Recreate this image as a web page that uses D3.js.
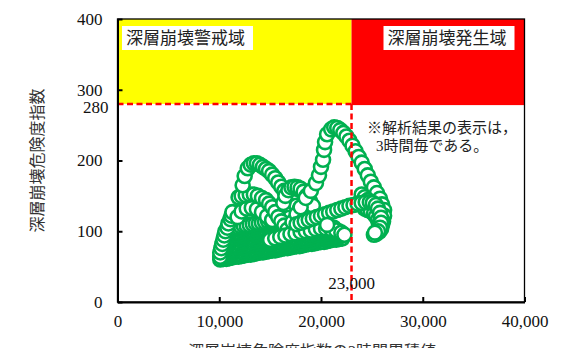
<!DOCTYPE html>
<html>
<head>
<meta charset="utf-8">
<script src="https://cdn.jsdelivr.net/npm/d3@7"></script>
<style>
  body { margin: 0; background: #fff; }
  svg { display: block; }
</style>
</head>
<body>
<svg id="chart" width="573" height="348"></svg>
<script>
// axis ticks
const xTicks = [0, 10000, 20000, 30000, 40000];
const yTicks = [0, 100, 200, 300, 400];
const yThreshold = 280;
const xThreshold = 23000;

// [3h cumulative index, danger index]
// dense low-level band (many 3h steps piled up)
const baseRun = [[10100,60],[10400,61],[10700,61],[11000,62],[11300,63],[11600,64],[11900,64],[12200,65],[12500,66],[12800,67],[13100,67],[13400,68],[13700,69],[14000,70],[14300,70],[14600,71],[14900,72],[15200,73],[15500,73],[15800,74],[16100,75],[16400,76],[16700,76],[17000,77],[17300,78],[17600,79],[17900,79],[18200,80],[18500,81],[18800,82],[19100,82],[19400,83],[19700,84],[20000,85],[20300,85],[20600,86],[20900,87],[21200,88],[21500,88],[21800,89],[22100,90]];
const massRow1 = [[10250,64],[10550,65],[10850,65],[11150,66],[11450,67],[11750,68],[12050,68],[12350,69],[12650,70],[12950,71],[13250,71],[13550,72],[13850,73],[14150,74],[14450,74],[14750,75],[15050,76],[15350,77],[15650,77],[15950,78],[16250,79],[16550,80],[16850,80],[17150,81],[17450,82],[17750,83],[18050,83],[18350,84],[18650,85],[18950,86],[19250,86],[19550,87],[19850,88],[20150,89],[20450,89],[20750,90],[21050,91],[21350,92],[21650,92],[21950,93]];
const massRow2 = [[10200,67],[10500,68],[10800,69],[11100,69],[11400,70],[11700,71],[12000,72],[12300,72],[12600,73],[12900,74],[13200,75],[13500,75],[13800,76],[14100,77],[14400,78],[14700,78],[15000,79],[15300,80],[15600,81],[15900,81],[16200,82],[16500,83],[16800,84],[17100,84],[17400,85],[17700,86],[18000,87],[18300,87],[18600,88],[18900,89],[19200,90],[19500,90],[19800,91],[20100,92],[20400,93],[20700,93],[21000,94],[21300,95],[21600,96],[21900,96]];
const massRow3 = [[10350,71],[10650,72],[10950,73],[11250,73],[11550,74],[11850,75],[12150,76],[12450,76],[12750,77],[13050,78],[13350,79],[13650,79],[13950,80],[14250,81],[14550,82],[14850,82],[15150,83],[15450,84],[15750,85],[16050,85],[16350,86],[16650,87],[16950,88],[17250,88],[17550,89],[17850,90],[18150,91],[18450,91],[18750,92],[19050,93],[19350,94],[19650,94],[19950,95],[20250,96],[20550,97],[20850,97],[21150,98],[21450,99],[21750,100]];
const massRow4 = [[10300,74],[10600,75],[10900,76],[11200,77],[11500,77],[11800,78],[12100,79],[12400,80],[12700,80],[13000,81],[13300,82],[13600,83],[13900,83],[14200,84],[14500,85],[14800,86],[15100,86],[15400,87],[15700,88],[16000,89],[16300,89],[16600,90],[16900,91],[17200,92],[17500,92],[17800,93],[18100,94],[18400,95],[18700,95],[19000,96],[19300,97],[19600,98],[19900,98],[20200,99],[20500,100],[20800,101],[21100,101],[21400,102]];
const massRow5 = [[10450,78],[10750,79],[11050,80],[11350,81],[11650,81],[11950,82],[12250,83],[12550,84],[12850,84],[13150,85],[13450,86],[13750,87],[14050,87],[14350,88],[14650,89],[14950,90],[15250,90],[15550,91],[15850,92],[16150,93],[16450,93],[16750,94],[17050,95],[17350,96],[17650,96],[17950,97],[18250,98],[18550,99],[18850,99],[19150,100],[19450,101],[19750,102],[20050,102],[20350,103],[20650,104],[20950,105],[21250,105]];
const massRow6 = [[10400,82],[10700,82],[11000,83],[11300,84],[11600,85],[11900,85],[12200,86],[12500,87],[12800,88],[13100,88],[13400,89],[13700,90],[14000,91],[14300,91],[14600,92],[14900,93],[15200,94],[15500,94],[15800,95],[16100,96],[16400,97],[16700,97],[17000,98],[17300,99],[17600,100],[17900,100],[18200,101],[18500,102],[18800,103],[19100,103],[19400,104],[19700,105],[20000,106],[20300,106],[20600,107]];
const massRow7 = [[10550,86],[10850,86],[11150,87],[11450,88],[11750,89],[12050,89],[12350,90],[12650,91],[12950,92],[13250,92],[13550,93],[13850,94],[14150,95],[14450,95],[14750,96],[15050,97],[15350,98],[15650,98],[15950,99],[16250,100],[16550,101],[16850,101],[17150,102],[17450,103],[17750,104],[18050,104],[18350,105],[18650,106],[18950,107],[19250,107],[19550,108],[19850,109],[20150,110]];
const massRow8 = [[10500,89],[10800,90],[11100,90],[11400,91],[11700,92],[12000,93],[12300,93],[12600,94],[12900,95],[13200,96],[13500,96],[13800,97],[14100,98],[14400,99],[14700,99],[15000,100],[15300,101],[15600,102],[15900,102],[16200,103],[16500,104],[16800,105],[17100,105],[17400,106],[17700,107],[18000,108],[18300,108],[18600,109],[18900,110],[19200,111]];
const massRow9 = [[10650,93],[10950,94],[11250,94],[11550,95],[11850,96],[12150,97],[12450,97],[12750,98],[13050,99],[13350,100],[13650,100],[13950,101],[14250,102],[14550,103],[14850,103],[15150,104],[15450,105],[15750,106],[16050,106],[16350,107],[16650,108],[16950,109],[17250,109],[17550,110],[17850,111],[18150,112],[18450,112],[18750,113]];
const massRow10 = [[10700,96],[11000,97],[11300,98],[11600,99],[11900,99],[12200,100],[12500,101],[12800,102],[13100,102],[13400,103],[13700,104],[14000,105],[14300,105],[14600,106],[14900,107],[15200,108],[15500,108],[15800,109],[16100,110],[16400,111],[16700,111],[17000,112],[17300,113],[17600,114],[17900,114]];
const massRow11 = [[10850,100],[11150,101],[11450,102],[11750,103],[12050,103],[12350,104],[12650,105],[12950,106],[13250,106],[13550,107],[13850,108],[14150,109],[14450,109],[14750,110],[15050,111],[15350,112],[15650,112],[15950,113],[16250,114],[16550,115],[16850,115],[17150,116],[17450,117]];
const massRow12 = [[10900,104],[11200,105],[11500,105],[11800,106],[12100,107],[12400,108],[12700,108],[13000,109],[13300,110],[13600,111],[13900,111],[14200,112],[14500,113],[14800,114],[15100,114],[15400,115],[15700,116],[16000,117],[16300,117],[16600,118],[16900,119]];
const leftClimb = [[10100,64],[10100,70],[10200,76],[10300,82],[10400,88],[10500,94],[10600,100],[10800,105],[10900,111],[11100,117],[11200,122],[11300,127]];
const midLoop = [[11800,120],[12200,128],[12700,132],[13200,133],[13700,131],[14200,127],[14700,121],[15200,116]];
const secondHump = [[11900,148],[12200,150],[12600,151],[13000,152],[13400,152],[13800,150],[14200,147],[14600,144],[14900,139],[15200,134],[15500,127],[15800,120],[16100,114],[16400,108],[16700,102]];
const firstHump = [[12300,165],[12500,178],[12800,189],[13100,194],[13400,196],[13700,196],[14000,194],[14300,191],[14600,188],[14900,185],[15200,180],[15500,175],[15800,169],[16100,163],[16400,157],[16700,151],[17000,146],[17300,141],[17600,136],[17900,131],[18200,125],[18500,120]];
const ridge = [[16300,140],[16500,150],[16800,158],[17100,162],[17400,163],[17700,162],[18000,160],[18300,156],[18600,150],[18900,143],[19200,136]];
const lowerRun = [[15000,88],[15500,90],[16000,92],[16500,94],[17000,96],[17500,97],[18000,99],[18500,100],[19000,101],[19500,103],[20000,104],[20500,104],[21000,103],[21500,101],[22000,98],[22300,95]];
const peakArc = [[17200,113],[17600,124],[18000,134],[18500,147],[19000,157],[19500,168],[19800,179],[20000,191],[20200,201],[20300,215],[20400,226],[20600,237],[21000,244],[21300,247],[21600,246],[21900,243],[22200,239],[22500,234],[22800,228],[23100,221],[23400,213],[23700,205],[24000,197],[24300,188],[24600,179],[24900,170],[25200,162],[25500,154],[25800,146],[26000,138],[26200,130],[26200,122],[26100,114],[25900,107],[25700,100]];
const blobRun = [[24000,152],[24300,148],[24600,144],[24900,139],[25200,134],[25500,128],[25700,122],[25900,115],[26000,109],[25900,103],[25700,99]];
const rightLoop = [[24300,132],[24600,130],[24900,128],[25200,125],[25400,121],[25600,116],[25700,110],[25700,104],[25600,99],[25400,96],[25200,95]];
const returnRun = [[17600,110],[18000,112],[18400,114],[18800,116],[19200,118],[19600,120],[20000,122],[20400,124],[20800,126],[21200,128],[21600,130],[22000,132],[22400,134],[22800,136],[23200,137],[23600,139],[24000,140],[24400,141],[24800,141],[25100,140],[25400,137],[25600,132],[25800,126],[25900,119],[25900,112],[25800,105],[25600,100],[25300,98]];
const lastPoint = [[20600,109]];

const points = [].concat(baseRun, massRow1, massRow2, massRow3, massRow4, massRow5,
  massRow6, massRow7, massRow8, massRow9, massRow10, massRow11, massRow12,
  leftClimb, midLoop, secondHump, firstHump, ridge, lowerRun, peakArc,
  blobRun, rightLoop, returnRun, lastPoint);

const svg = d3.select("#chart");
const margin = { left: 117.5, right: 48.5, top: 19, bottom: 46 };
const width = 573, height = 348;

const x = d3.scaleLinear().domain([0, 40000]).range([margin.left, width - margin.right]);
const y = d3.scaleLinear().domain([0, 400]).range([height - margin.bottom, margin.top]);

const serif = "'Liberation Serif', 'Times New Roman', serif";
const jp = "'Noto Sans CJK JP', sans-serif";

// warning / occurrence zones
svg.append("rect")
  .attr("x", x(0)).attr("y", y(400))
  .attr("width", x(xThreshold) - x(0)).attr("height", y(yThreshold) - y(400))
  .attr("fill", "#ffff00");
svg.append("rect")
  .attr("x", x(xThreshold)).attr("y", y(400))
  .attr("width", x(40000) - x(xThreshold)).attr("height", y(yThreshold) - y(400) + 1.2)
  .attr("fill", "#ff0000");

// markers
svg.append("g")
  .selectAll("circle")
  .data(points)
  .enter()
  .append("circle")
  .attr("cx", (d) => x(d[0]))
  .attr("cy", (d) => y(d[1]))
  .attr("r", 7)
  .attr("fill", "#fff")
  .attr("stroke", "#00b050")
  .attr("stroke-width", 2.6);

// threshold lines
svg.append("line")
  .attr("x1", x(0)).attr("x2", x(xThreshold))
  .attr("y1", y(yThreshold)).attr("y2", y(yThreshold))
  .attr("stroke", "#ff0000").attr("stroke-width", 2.5)
  .attr("stroke-dasharray", "6,3.5");
svg.append("line")
  .attr("x1", x(xThreshold)).attr("x2", x(xThreshold))
  .attr("y1", y(yThreshold)).attr("y2", y(0))
  .attr("stroke", "#ff0000").attr("stroke-width", 2.5)
  .attr("stroke-dasharray", "6,3.5");

// frame
svg.append("rect")
  .attr("x", x(0)).attr("y", y(400))
  .attr("width", x(40000) - x(0)).attr("height", y(0) - y(400))
  .attr("fill", "none").attr("stroke", "#000").attr("stroke-width", 1.3);

// axes
const xAxis = svg.append("g")
  .attr("transform", "translate(0," + y(0) + ")")
  .call(d3.axisBottom(x).tickValues(xTicks).tickFormat(d3.format(","))
    .tickSizeInner(-5).tickSizeOuter(0).tickPadding(13));
const yAxis = svg.append("g")
  .attr("transform", "translate(" + x(0) + ",0)")
  .call(d3.axisLeft(y).tickValues(yTicks)
    .tickSizeInner(-5).tickSizeOuter(0).tickPadding(15));

[xAxis, yAxis].forEach((g) => {
  g.select(".domain").attr("stroke", "#000").attr("stroke-width", 2);
  g.selectAll(".tick line").attr("stroke", "#000").attr("stroke-width", 2);
  g.selectAll(".tick text")
    .attr("fill", "#111")
    .style("font-family", serif)
    .style("font-size", "17px");
});

// extra 280 label
svg.append("text")
  .attr("x", x(0) - 9).attr("y", y(yThreshold) + 9)
  .attr("text-anchor", "end")
  .attr("fill", "#111")
  .style("font-family", serif).style("font-size", "17px")
  .text("280");

svg.append("text")
  .attr("x", x(xThreshold)).attr("y", 289)
  .attr("text-anchor", "middle")
  .attr("fill", "#111")
  .style("font-family", serif).style("font-size", "17px")
  .text("23,000");

// zone labels
function zoneLabel(left, text) {
  svg.append("rect")
    .attr("x", left).attr("y", 26)
    .attr("width", 131).attr("height", 24)
    .attr("fill", "#fff");
  svg.append("text")
    .attr("x", left + 4).attr("y", 44)
    .attr("fill", "#222")
    .style("font-family", jp).style("font-size", "17px")
    .text(text);
}
zoneLabel(x(0) + 4.5, "深層崩壊警戒域");
zoneLabel(x(40000) - 141, "深層崩壊発生域");

// note
svg.append("text")
  .attr("x", 367).attr("y", 133)
  .attr("fill", "#222")
  .style("font-family", serif + "," + jp).style("font-size", "15px")
  .text("※解析結果の表示は，");
svg.append("text")
  .attr("x", 376).attr("y", 151)
  .attr("fill", "#222")
  .style("font-family", serif + "," + jp).style("font-size", "15px")
  .text("3時間毎である。");

// axis titles
svg.append("text")
  .attr("transform", "translate(43," + (y(0) + y(400)) / 2 + ") rotate(-90)")
  .attr("text-anchor", "middle")
  .attr("fill", "#333")
  .style("font-family", jp).style("font-size", "16px")
  .text("深層崩壊危険度指数");
svg.append("text")
  .attr("x", 312).attr("y", 357)
  .attr("text-anchor", "middle")
  .attr("fill", "#333")
  .style("font-family", serif + "," + jp).style("font-size", "16px")
  .text("深層崩壊危険度指数の3時間累積値");
</script>
</body>
</html>
